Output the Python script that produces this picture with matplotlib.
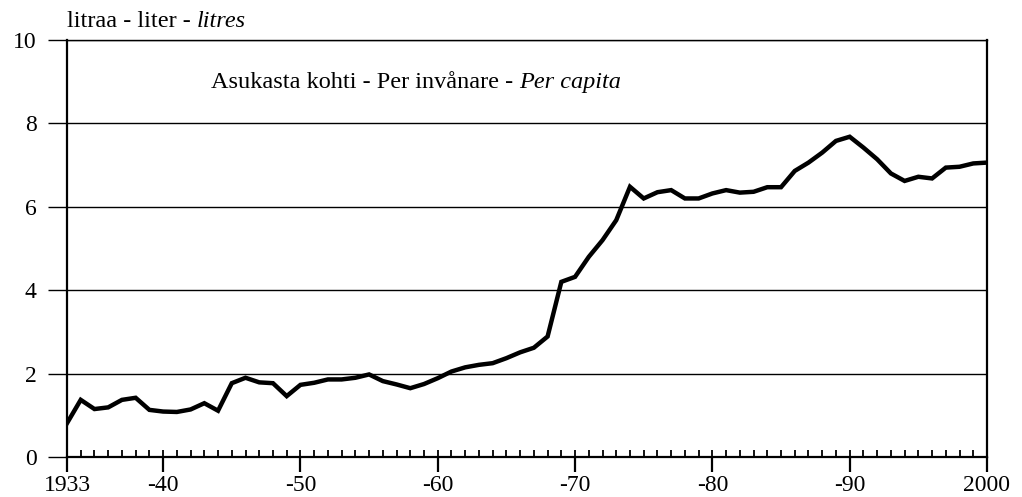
import matplotlib
matplotlib.use("Agg")
import matplotlib.pyplot as plt
from matplotlib.ticker import FixedLocator, MultipleLocator

years = list(range(1933, 2001))
litres = [0.81, 1.37, 1.15, 1.19, 1.37, 1.42, 1.13, 1.09, 1.08, 1.14,
          1.29, 1.11, 1.77, 1.90, 1.79, 1.77, 1.46, 1.73, 1.78, 1.86,
          1.86, 1.90, 1.98, 1.82, 1.74, 1.65, 1.75, 1.89, 2.05, 2.15,
          2.21, 2.25, 2.37, 2.51, 2.62, 2.89, 4.20, 4.32, 4.80, 5.20,
          5.68, 6.48, 6.20, 6.35, 6.40, 6.20, 6.20, 6.32, 6.40, 6.34,
          6.36, 6.47, 6.47, 6.86, 7.06, 7.30, 7.58, 7.68, 7.42, 7.14,
          6.80, 6.62, 6.72, 6.68, 6.94, 6.96, 7.04, 7.06]
xtick_pos = [1933, 1940, 1950, 1960, 1970, 1980, 1990, 2000]
xtick_labels = ["1933", "-40", "-50", "-60", "-70", "-80", "-90", "2000"]
ytick_pos = [0, 2, 4, 6, 8, 10]
unit_plain = "litraa - liter - "
unit_italic = "litres"
title_plain = "Asukasta kohti - Per invånare - "
title_italic = "Per capita"

plt.rcParams['font.family'] = ['Liberation Serif', 'DejaVu Serif']
FS = 17.5

fig = plt.figure(figsize=(10.22, 4.97), dpi=100)
ax = fig.add_axes([67/1022, 1-457/497, 920/1022, 417/497])

ax.plot(years, litres, color="black", lw=3.2, solid_joinstyle="miter", zorder=3)

ax.set_xlim(1933, 2000)
ax.set_ylim(0, 10)

ax.xaxis.set_major_locator(FixedLocator(xtick_pos))
ax.set_xticklabels(xtick_labels)
ax.xaxis.set_minor_locator(MultipleLocator(1))
ax.xaxis.remove_overlapping_locs = False
ax.tick_params(axis="x", which="major", direction="out", length=11, width=1.6,
               labelsize=17, pad=2, color="black")
ax.tick_params(axis="x", which="minor", direction="in", length=5, width=1.3, color="black")

ax.set_yticks(ytick_pos)
ax.tick_params(axis="y", which="major", direction="out", length=14, width=1.0,
               labelsize=17, pad=8)
ax.yaxis.grid(True, color="black", lw=1.0)
ax.set_axisbelow(True)

for s in ["left", "right", "bottom"]:
    ax.spines[s].set_linewidth(1.6)
ax.spines["top"].set_linewidth(1.0)

t1 = fig.text(67/1022, 1-27/497, unit_plain, fontsize=FS, ha="left", va="baseline")
ax.annotate(unit_italic, xy=(1, 0), xycoords=t1, fontsize=FS, style="italic",
            ha="left", va="bottom")

t2 = ax.text(211/1022, 1-88/497, title_plain, transform=fig.transFigure,
             fontsize=FS, ha="left", va="baseline")
ax.annotate(title_italic, xy=(1, 0), xycoords=t2, fontsize=FS, style="italic",
            ha="left", va="bottom")

fig.savefig("out.png", dpi=100)
